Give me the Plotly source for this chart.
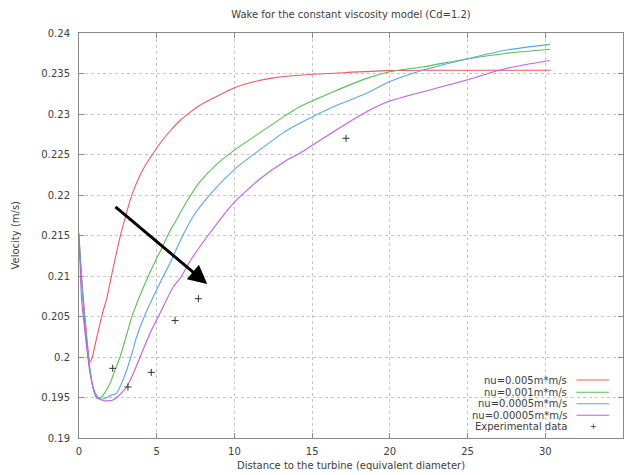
import plotly.graph_objects as go

# Wake velocity profiles for four viscosity values
red_x = [0, 0.1, 0.25, 0.4, 0.55, 0.7, 0.85, 1.0, 1.25, 1.5, 1.78, 2.2, 2.64, 3.0, 3.3, 3.6,
         4.1, 4.72, 5.3, 5.86, 6.5, 7.14, 7.8, 8.43, 9.2, 9.93, 10.7, 11.54, 12.3, 13.5, 15.1,
         17, 19.8, 22, 25, 28, 30.35]
red_y = [0.2142, 0.2115, 0.2078, 0.2046, 0.2015, 0.1994, 0.1999, 0.2012, 0.2033, 0.2053,
         0.2072, 0.2110, 0.2148, 0.2174, 0.2194, 0.2210, 0.2231, 0.2250, 0.2266, 0.2279,
         0.2292, 0.2302, 0.2311, 0.23175, 0.2325, 0.23317, 0.2337, 0.23411, 0.2344, 0.2347,
         0.2349, 0.2351, 0.23535, 0.2354, 0.2354, 0.2354, 0.2354]

green_x = [0, 0.15, 0.3, 0.5, 0.7, 0.9, 1.14, 1.4, 1.7, 2.0, 2.3, 2.64, 3.0, 3.39, 3.8, 4.35,
           4.75, 5.21, 5.86, 6.29, 6.93, 7.79, 8.8, 9.93, 11.65, 13.15, 14.2, 16.37, 18.5,
           20.0, 22.16, 24.95, 27.52, 30.3]
green_y = [0.2150, 0.2100, 0.2060, 0.2015, 0.1985, 0.1962, 0.1949, 0.1950, 0.1957, 0.19675,
           0.1983, 0.2000, 0.2023, 0.2049, 0.2070, 0.2095, 0.2112, 0.2130, 0.2156, 0.2170,
           0.2192, 0.22165, 0.2237, 0.22545, 0.2277, 0.22965, 0.2309, 0.23275, 0.2344,
           0.23522, 0.23584, 0.23680, 0.2375, 0.2380]

blue_x = [0, 0.15, 0.3, 0.5, 0.7, 0.9, 1.15, 1.46, 1.8, 2.1, 2.42, 2.75, 3.07, 3.4, 3.71, 4.2,
          4.78, 5.3, 5.86, 6.5, 7.36, 8.64, 10.15, 11.65, 13.15, 14.2, 16.37, 18.5, 20.0,
          22.16, 24.95, 27.52, 30.3]
blue_y = [0.2150, 0.2100, 0.2060, 0.2015, 0.1985, 0.1962, 0.1950, 0.19478, 0.1950, 0.1953,
          0.19552, 0.1968, 0.1984, 0.2004, 0.2025, 0.2050, 0.20744, 0.2095, 0.2116, 0.2143,
          0.2174, 0.2205, 0.2234, 0.2256, 0.2277, 0.22885, 0.2309, 0.23255, 0.2340,
          0.23543, 0.2368, 0.2379, 0.2386]

purple_x = [0, 0.17, 0.39, 0.71, 1.03, 1.35, 1.6, 1.89, 2.2, 2.42, 2.75, 3.07, 3.5, 3.93,
            4.57, 5.21, 6.07, 6.5, 7.2, 8.3, 9.93, 11.65, 13.36, 14.2, 16.37, 18.5, 20.0,
            22.16, 24.95, 27.52, 30.3]
purple_y = [0.2153, 0.2070, 0.2030, 0.1980, 0.1956, 0.1948, 0.1946, 0.1946, 0.1947, 0.1950,
            0.1956, 0.19633, 0.1980, 0.2000, 0.20293, 0.2054, 0.20868, 0.2097, 0.2120,
            0.2150, 0.21898, 0.2220, 0.2243, 0.22515, 0.22782, 0.23028, 0.23160,
            0.23275, 0.2342, 0.23564, 0.2366]

# Measured wake velocities
exp_x = [2.17, 3.15, 4.65, 6.18, 7.68, 17.18]
exp_y = [0.1986, 0.1963, 0.1981, 0.2045, 0.2072, 0.2270]

series_names = ["nu=0.005m*m/s", "nu=0.001m*m/s", "nu=0.0005m*m/s", "nu=0.00005m*m/s"]
series_colors = ["#f05a5a", "#55c055", "#5aa5ee", "#c35ee8"]
exp_name = "Experimental data"

x_ticks = [0, 5, 10, 15, 20, 25, 30, 35]
y_ticks = [0.19, 0.195, 0.2, 0.205, 0.21, 0.215, 0.22, 0.225, 0.23, 0.235, 0.24]
y_tick_labels = ["0.19", "0.195", "0.2", "0.205", "0.21", "0.215", "0.22", "0.225",
                 "0.23", "0.235", "0.24"]

# Arrow marking the trend of decreasing viscosity
arrow_start = (2.25, 0.2187)
arrow_end = (8.25, 0.2090)

FONT = "DejaVu Sans"
TXT = "#404040"
AXC = "#8a8a8a"

fig = go.Figure()
for xs, ys, name, col in zip([red_x, green_x, blue_x, purple_x],
                             [red_y, green_y, blue_y, purple_y],
                             series_names, series_colors):
    fig.add_trace(go.Scatter(x=xs, y=ys, mode="lines", name=name,
                             line=dict(color=col, width=1.1, shape="spline", smoothing=0.6),
                             showlegend=False))

fig.add_trace(go.Scatter(x=exp_x, y=exp_y, mode="markers", name=exp_name,
                         marker=dict(symbol="cross-thin", size=5,
                                     line=dict(color="#333333", width=1)),
                         showlegend=False))

axis_common = dict(showline=True, linecolor=AXC, linewidth=1, mirror="ticks",
                   ticks="inside", ticklen=5, tickcolor=AXC,
                   showgrid=True, gridcolor="#c4c4c4", griddash="dot", gridwidth=1,
                   zeroline=False, tickfont=dict(family=FONT, size=10, color=TXT))

fig.update_xaxes(range=[0, 35], tickvals=x_ticks, ticktext=[str(v) for v in x_ticks],
                 ticklabelstandoff=4, **axis_common)
fig.update_yaxes(range=[0.19, 0.24], tickvals=y_ticks, ticktext=y_tick_labels,
                 ticklabelstandoff=6, **axis_common)

# Key box: opaque white background in the lower-right corner
shapes = [dict(type="rect", xref="paper", yref="paper", x0=0.691, x1=0.994, y0=0.01,
               y1=0.163, fillcolor="white", line=dict(width=0), layer="between")]
annotations = []
row_y = [0.1432, 0.1128, 0.0847, 0.0560, 0.0279]
labels = series_names + [exp_name]
for i, (lab, yy) in enumerate(zip(labels, row_y)):
    annotations.append(dict(xref="paper", yref="paper", x=0.9013, y=yy, text=lab,
                            showarrow=False, xanchor="right", yanchor="middle",
                            font=dict(family=FONT, size=10, color=TXT)))
    if i < 4:
        shapes.append(dict(type="line", xref="paper", yref="paper", x0=0.9145, x1=0.9746,
                           y0=yy, y1=yy, line=dict(color=series_colors[i], width=1.1),
                           layer="above"))
    else:
        annotations.append(dict(xref="paper", yref="paper", x=0.9454, y=yy, text="+",
                                showarrow=False, xanchor="center", yanchor="middle",
                                font=dict(family=FONT, size=8, color="#333333")))

annotations.append(dict(x=arrow_end[0], y=arrow_end[1], ax=arrow_start[0], ay=arrow_start[1],
                        xref="x", yref="y", axref="x", ayref="y", text="",
                        showarrow=True, arrowhead=2, arrowsize=1.25, arrowwidth=3,
                        arrowcolor="black"))

annotations.append(dict(xref="paper", yref="paper", x=-0.1176, y=0.5,
                        text="Velocity (m/s)", textangle=-90, showarrow=False,
                        xanchor="center", yanchor="middle",
                        font=dict(family=FONT, size=10, color=TXT)))
annotations.append(dict(xref="paper", yref="paper", x=0.5, y=-0.0691,
                        text="Distance to the turbine (equivalent diameter)",
                        showarrow=False, xanchor="center", yanchor="middle",
                        font=dict(family=FONT, size=10, color=TXT)))

fig.update_layout(
    width=628, height=475,
    margin=dict(l=79, r=5, t=33, b=37),
    paper_bgcolor="white", plot_bgcolor="white",
    title=dict(text="Wake for the constant viscosity model (Cd=1.2)",
               x=0.5, xref="paper", y=1 - 14 / 475, yref="container",
               xanchor="center", yanchor="middle",
               font=dict(family=FONT, size=10, color=TXT)),
    shapes=shapes, annotations=annotations, showlegend=False,
)

fig.write_html("out.html")
